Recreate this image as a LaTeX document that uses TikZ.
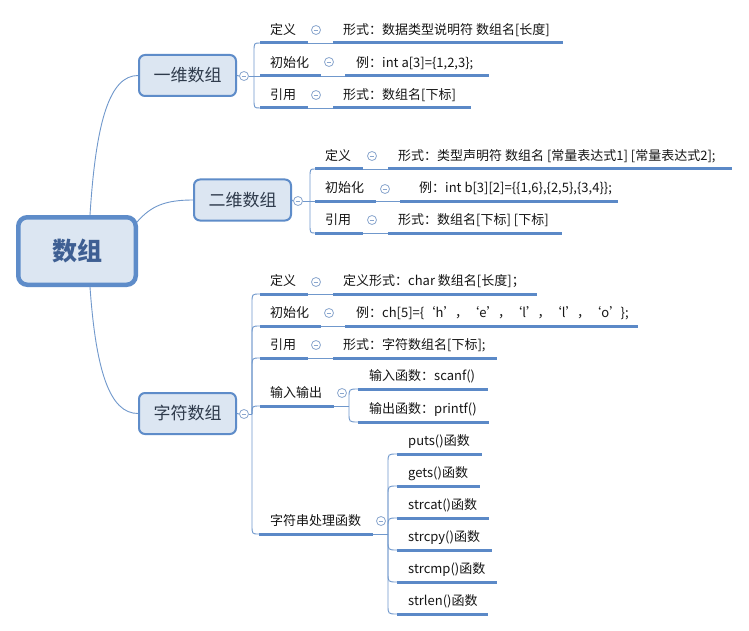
\documentclass[tikz,border=0pt]{standalone}
\usepackage{fontspec}
\newfontfamily\cjk{Noto Sans CJK SC}
\usetikzlibrary{calc}
\definecolor{ublue}{HTML}{5B89C7}
\definecolor{cblue}{HTML}{7098CC}
\definecolor{boxfill}{HTML}{DCE6F2}
\definecolor{boxline}{HTML}{5E8CC9}
\definecolor{btncol}{HTML}{8AA6CE}
\definecolor{roottext}{HTML}{3E5F93}
\definecolor{subtext}{HTML}{2E3A4B}
\definecolor{leaftext}{HTML}{151515}
\tikzset{
  leafnode/.style={anchor=south west, inner xsep=0pt, inner ysep=0pt, minimum height=26pt,
    text height=11.4pt, text depth=1.6pt, font=\cjk\fontsize{13}{15}\selectfont, text=leaftext},
  uline/.style={draw=ublue, line width=3pt},
  conn/.style={draw=cblue, line width=0.9pt},
  btn/.style={circle, draw=btncol, fill=white, minimum size=9pt, inner sep=0pt, line width=0.8pt,
    path picture={\draw[btncol, line width=0.8pt] ([xshift=-2.4pt]path picture bounding box.center) -- ([xshift=2.4pt]path picture bounding box.center);}},
  subbox/.style={draw=boxline, fill=boxfill, line width=2pt, rounded corners=6pt,
    minimum width=97pt, minimum height=41pt, inner sep=0pt, font=\cjk\fontsize{17}{20}\selectfont, text=subtext},
  rootbox/.style={draw=boxline, fill=boxfill, line width=4.5pt, rounded corners=9pt,
    minimum width=117.5pt, minimum height=67.5pt, inner sep=0pt, font=\cjk\bfseries\fontsize{25}{30}\selectfont, text=roottext},
  bup/.style={to path={-- ($(\tikztostart |- \tikztotarget)+(0,9)$) .. controls (\tikztostart |- \tikztotarget) .. (\tikztotarget)}},
  bdown/.style={to path={-- ($(\tikztostart |- \tikztotarget)+(0,-9)$) .. controls (\tikztostart |- \tikztotarget) .. (\tikztotarget)}},
}
% name, x, y, endx, text offset, text
\newcommand\leaf[6]{%
  \node[leafnode] (#1) at (#2,#3) {\makebox[\dimexpr #4pt-#2pt\relax][l]{\hspace{#5pt}#6}};
  \draw[uline] (#1.south west) -- (#1.south east);}
\newcommand\tq{\kern-1.6pt}
\begin{document}
\begin{tikzpicture}[x=1pt,y=-1pt]
\path[fill=white] (0,0) rectangle (749,631);
\useasboundingbox (0,0) rectangle (749,631);

% ---------- main boxes ----------
\node[rootbox] (root) at (77,251) {数组};
\node[subbox] (s1) at (187.5,75.5) {一维数组};
\node[subbox] (s2) at (242.5,200) {二维数组};
\node[subbox] (s3) at (187.5,413.5) {字符数组};

\draw[conn] ([xshift=13pt]root.north) .. controls +(6,-95) and +(-28,0) .. (s1.west);
\draw[conn] ([xshift=-1pt,yshift=-7pt]root.north east) .. controls +(14,-16) and +(-28,0) .. (s2.west);
\draw[conn] ([xshift=13pt]root.south) .. controls +(6,85) and +(-28,0) .. (s3.west);

% ---------- 一维数组 ----------
\node[btn] (k1) at (244,76) {};
\draw[conn] (s1.east) -- (k1.west);
\coordinate (J1) at (254,76);
\draw[conn] (k1.east) -- (J1);
\leaf{a1}{260}{43}{308}{10}{定义}
\leaf{a2}{260}{76}{321}{10}{初始化}
\leaf{a3}{260}{108}{308}{10}{引用}
\draw[conn] (J1) to[bup] (a1.south west);
\draw[conn] (J1) -- (a2.south west);
\draw[conn] (J1) to[bdown] (a3.south west);
\node[btn] (a1k) at (316,30) {};
\node[btn] (a2k) at (329,62) {};
\node[btn] (a3k) at (316,95) {};
\leaf{a1c}{333}{43}{563}{10}{形式：数据类型说明符 数组名[长度]}
\leaf{a2c}{345}{76}{489}{11}{例：int a[3]=\{1,2,3\};}
\leaf{a3c}{333}{108}{471}{10}{形式：数组名[下标]}
\draw[conn] (a1.south east) -- (a1c.south west);
\draw[conn] (a2.south east) -- (a2c.south west);
\draw[conn] (a3.south east) -- (a3c.south west);

% ---------- 二维数组 ----------
\node[btn] (k2) at (298,201) {};
\draw[conn] (s2.east) -- (k2.west);
\coordinate (J2) at (310,201);
\draw[conn] (k2.east) -- (J2);
\leaf{b1}{315}{169}{363}{10}{定义}
\leaf{b2}{315}{201}{376}{10}{初始化}
\leaf{b3}{315}{233}{363}{10}{引用}
\draw[conn] (J2) to[bup] (b1.south west);
\draw[conn] (J2) -- (b2.south west);
\draw[conn] (J2) to[bdown] (b3.south west);
\node[btn] (b1k) at (372,156) {};
\node[btn] (b2k) at (385,189) {};
\node[btn] (b3k) at (372,220) {};
\leaf{b1c}{388}{169}{732}{10}{形式：类型声明符 数组名 [常量表达式1] [常量表达式2];}
\leaf{b2c}{400}{201}{618}{19}{例：int b[3][2]=\{\{1,6\},\{2,5\},\{3,4\}\};}
\leaf{b3c}{388}{233}{562}{10}{形式：数组名[下标] [下标]}
\draw[conn] (b1.south east) -- (b1c.south west);
\draw[conn] (b2.south east) -- (b2c.south west);
\draw[conn] (b3.south east) -- (b3c.south west);

% ---------- 字符数组 ----------
\node[btn] (k3) at (244,414) {};
\draw[conn] (s3.east) -- (k3.west);
\coordinate (J3) at (252,414);
\draw[conn] (k3.east) -- (J3);
\leaf{c1}{260}{294}{308}{10}{定义}
\leaf{c2}{260}{326}{321}{10}{初始化}
\leaf{c3}{260}{358}{308}{10}{引用}
\leaf{c4}{260}{406}{334}{10}{输入输出}
\leaf{c5}{259}{534}{373}{11}{字符串处理函数}
\draw[conn] (J3) to[bup] (c1.south west);
\draw[conn] (J3) to[bup] (c2.south west);
\draw[conn] (J3) to[bup] (c3.south west);
\draw[conn] (J3) .. controls (252,406) .. (c4.south west);
\draw[conn] (J3) to[bdown] (c5.south west);
\node[btn] (c1k) at (316,282) {};
\node[btn] (c2k) at (329,313) {};
\node[btn] (c3k) at (316,345) {};
\node[btn] (c4k) at (342,393) {};
\node[btn] (c5k) at (381,521) {};
\leaf{c1c}{333}{294}{537}{10}{定义形式：char 数组名[长度]；}
\leaf{c2c}{345}{326}{638}{11}{例：ch[5]=\{\tq‘h’\tq，\tq‘e’\tq，\tq‘l’\tq，\tq‘l’\tq，\tq‘o’\tq\};}
\leaf{c3c}{333}{358}{497}{10}{形式：字符数组名[下标];}
\draw[conn] (c1.south east) -- (c1c.south west);
\draw[conn] (c2.south east) -- (c2c.south west);
\draw[conn] (c3.south east) -- (c3c.south west);

% 输入输出
\coordinate (J4) at (349,406);
\draw[conn] (c4.south east) -- (J4);
\leaf{d1}{358}{389}{488}{11}{输入函数：scanf()}
\leaf{d2}{358}{422}{489}{11}{输出函数：printf()}
\draw[conn] (J4) to[bup] (d1.south west);
\draw[conn] (J4) to[bdown] (d2.south west);

% 字符串处理函数
\coordinate (J5) at (388,534);
\draw[conn] (c5.south east) -- (J5);
\leaf{e1}{397}{454}{482}{11}{puts()函数}
\leaf{e2}{397}{486}{480}{11}{gets()函数}
\leaf{e3}{397}{518}{489}{11}{strcat()函数}
\leaf{e4}{397}{550}{492}{11}{strcpy()函数}
\leaf{e5}{397}{582}{497}{11}{strcmp()函数}
\leaf{e6}{397}{614}{488}{11}{strlen()函数}
\draw[conn] (J5) to[bup] (e1.south west);
\draw[conn] (J5) to[bup] (e2.south west);
\draw[conn] (J5) to[bup] (e3.south west);
\draw[conn] (J5) to[bdown] (e4.south west);
\draw[conn] (J5) to[bdown] (e5.south west);
\draw[conn] (J5) to[bdown] (e6.south west);
\end{tikzpicture}
\end{document}
